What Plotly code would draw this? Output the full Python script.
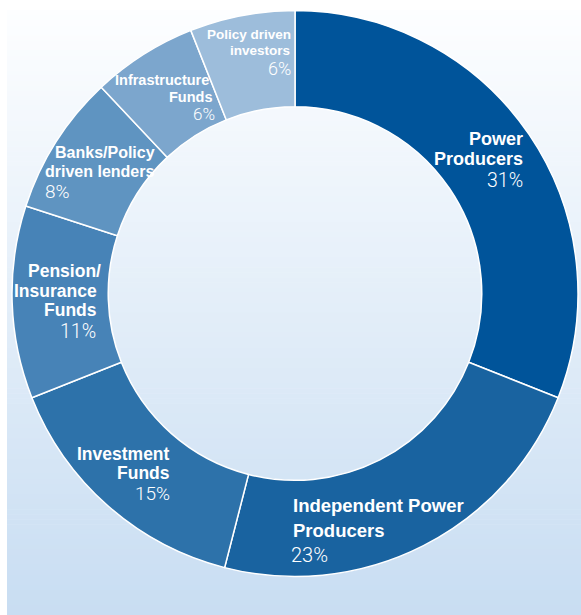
import plotly.graph_objects as go

W, H = 581, 615

categories = ["Power Producers", "Independent Power Producers", "Investment Funds",
              "Pension/ Insurance Funds", "Banks/Policy driven lenders",
              "Infrastructure Funds", "Policy driven investors"]
shares = [31, 23, 15, 11, 8, 6, 6]
name_lines = [["Power", "Producers"], ["Independent Power", "Producers"],
              ["Investment", "Funds"], ["Pension/", "Insurance", "Funds"],
              ["Banks/Policy", "driven lenders"], ["Infrastructure", "Funds"],
              ["Policy driven", "investors"]]
pct_labels = [f"{v}%" for v in shares]

colors = ["#00549a", "#1963a0", "#2d72aa", "#4783b7", "#5f94c1", "#7ca6cd", "#9dbddb"]

def px(x):
    return x / W

def py(y):
    return 1 - y / H

fig = go.Figure()
fig.add_trace(go.Pie(
    labels=categories, values=shares, sort=False, direction="clockwise", rotation=0,
    hole=0.66, marker=dict(colors=colors, line=dict(color="white", width=1.5)),
    textinfo="none", hoverinfo="label+percent", showlegend=False,
    domain=dict(x=[px(12), px(578)], y=[py(577), py(10)]),
))

# background gradient panel
x0, x1, y0, y1 = 7, 581, 10, 615
top = (253, 254, 255)
bot = (200, 221, 242)
N = 120
shapes = []
for i in range(N):
    t = (i + 0.5) / N
    c = tuple(round(top[k] + (bot[k] - top[k]) * t) for k in range(3))
    ya = y0 + (y1 - y0) * i / N
    yb = y0 + (y1 - y0) * (i + 1) / N + 0.6
    shapes.append(dict(type="rect", xref="paper", yref="paper", layer="below",
                       x0=px(x0), x1=px(x1), y0=py(min(yb, y1)), y1=py(ya),
                       fillcolor="rgb(%d,%d,%d)" % c, line=dict(width=0)))

NAME_FONT = "Liberation Sans, Arial, sans-serif"
PCT_FONT = "Roboto, Arial, sans-serif"
# per label: name-line x positions, name-line centre y, name anchor, name size,
#            pct x, pct centre y, pct anchor, pct size
label_layout = [
    ([524, 524], [139, 159.5], "right", 18, 524, 180.5, "right", 19.5),
    ([292.5, 292.5], [505, 530], "left", 18.5, 290, 555, "left", 20),
    ([171, 171], [454, 473], "right", 17.5, 171, 493, "right", 19),
    ([102, 98, 98], [271.5, 291, 310], "right", 17.5, 97, 331, "right", 19.5),
    ([156, 44], [152.5, 171], ["right", "left"], 16, 44, 191.5, "left", 19),
    ([210, 214], [80.5, 97], "right", 14.5, 216, 114.5, "right", 17),
    ([291.5, 291], [34, 50], "right", 13.5, 291.5, 68.5, "right", 18),
]
annotations = []
for lines, pct, (xs, ys, anc, nfs, pxx, pyy, panc, pfs) in zip(name_lines, pct_labels, label_layout):
    for j, ln in enumerate(lines):
        a = anc[j] if isinstance(anc, list) else anc
        annotations.append(dict(
            text=ln, x=px(xs[j]), y=py(ys[j]),
            xref="paper", yref="paper", xanchor=a, yanchor="middle", showarrow=False,
            borderpad=0,
            font=dict(family=NAME_FONT, size=nfs, color="white", weight="bold")))
    annotations.append(dict(
        text=pct, x=px(pxx), y=py(pyy),
        xref="paper", yref="paper", xanchor=panc, yanchor="middle", showarrow=False,
        borderpad=0,
        font=dict(family=PCT_FONT, size=pfs, color="white", weight=300)))

fig.update_layout(
    width=W, height=H, margin=dict(l=0, r=0, t=0, b=0),
    paper_bgcolor="white", plot_bgcolor="white",
    shapes=shapes, annotations=annotations,
)
fig.write_html("out.html", config={"displayModeBar": False},
               post_script="document.body.style.margin='0';")
